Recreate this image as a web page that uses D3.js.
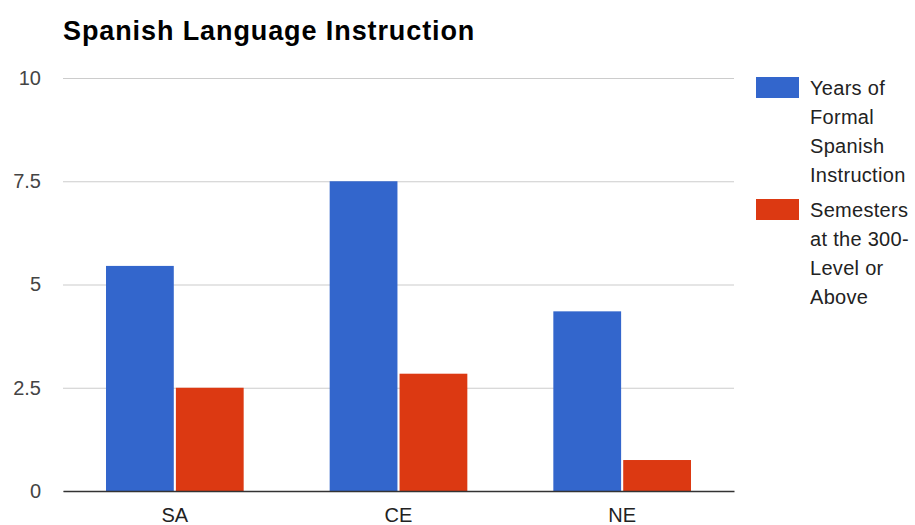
<!DOCTYPE html>
<html>
<head>
<meta charset="utf-8">
<script src="https://cdn.jsdelivr.net/npm/d3@7"></script>
<style>
  html, body { margin: 0; padding: 0; background: #fff; }
  svg { display: block; font-family: "Liberation Sans", Arial, sans-serif; }
</style>
</head>
<body>
<svg id="chart" width="915" height="525"></svg>
<script>
// Data
const categories = ["SA", "CE", "NE"];
const seriesNames = ["Years of Formal Spanish Instruction", "Semesters at the 300-Level or Above"];
const yearsFormal = [5.45, 7.5, 4.35];
const semesters300 = [2.5, 2.84, 0.75];
const yTicks = [0, 2.5, 5, 7.5, 10];
const yTickLabels = ["0", "2.5", "5", "7.5", "10"];
const legendLines = [
  ["Years of", "Formal", "Spanish", "Instruction"],
  ["Semesters", "at the 300-", "Level or", "Above"]
];
const colors = ["#3366cc", "#dc3912"];

const svg = d3.select("#chart");

const plot = { left: 63, right: 734, top: 78, bottom: 491 };

const x = d3.scaleBand()
  .domain(categories)
  .range([plot.left, plot.right])
  .paddingInner(0)
  .paddingOuter(0);

const groupPad = 43;
const xInner = d3.scaleBand()
  .domain(d3.range(seriesNames.length))
  .range([groupPad, x.bandwidth() - groupPad])
  .paddingInner(0.03);

const y = d3.scaleLinear().domain([0, 10]).range([plot.bottom, plot.top]);

// Title
svg.append("text")
  .attr("x", 63)
  .attr("y", 40)
  .attr("font-size", 27)
  .attr("font-weight", "bold")
  .attr("fill", "#000")
  .attr("letter-spacing", 0.9)
  .text("Spanish Language Instruction");

// Gridlines and y tick labels
const yAxis = d3.axisLeft(y)
  .tickValues(yTicks)
  .tickSize(-(plot.right - plot.left))
  .tickPadding(22)
  .tickFormat((d, i) => yTickLabels[i]);

const gy = svg.append("g")
  .attr("transform", `translate(${plot.left},0)`)
  .call(yAxis);
gy.select(".domain").remove();
gy.selectAll(".tick line").attr("stroke", "#cccccc").attr("stroke-width", 1.2);
gy.selectAll(".tick text")
  .attr("font-size", 20)
  .attr("fill", "#444")
  .attr("font-family", "Liberation Sans, Arial, sans-serif");

// Bars
const rows = categories.map((c, i) => ({ cat: c, values: [yearsFormal[i], semesters300[i]] }));

const groups = svg.append("g")
  .selectAll("g")
  .data(rows)
  .join("g")
  .attr("transform", d => `translate(${x(d.cat)},0)`);

groups.selectAll("rect")
  .data(d => d.values.map((v, s) => ({ v, s })))
  .join("rect")
  .attr("x", d => xInner(d.s))
  .attr("width", xInner.bandwidth())
  .attr("y", d => y(d.v))
  .attr("height", d => y(0) - y(d.v))
  .attr("fill", d => colors[d.s]);

// Baseline and category labels
const xAxis = d3.axisBottom(x).tickSize(0).tickPadding(17);
const gx = svg.append("g")
  .attr("transform", `translate(0,${plot.bottom})`)
  .call(xAxis);
gx.select(".domain").attr("stroke", "#333").attr("stroke-width", 1.5);
gx.selectAll(".tick text")
  .attr("font-size", 20)
  .attr("fill", "#222")
  .attr("font-family", "Liberation Sans, Arial, sans-serif");

// Legend
const legend = svg.append("g");
const itemTop = [77, 199];
legendLines.forEach((lines, s) => {
  const g = legend.append("g").attr("transform", `translate(756,${itemTop[s]})`);
  g.append("rect")
    .attr("width", 43)
    .attr("height", 21)
    .attr("fill", colors[s]);
  lines.forEach((t, k) => {
    g.append("text")
      .attr("x", 54)
      .attr("y", 18 + k * 29)
      .attr("font-size", 20)
      .attr("fill", "#222")
      .attr("letter-spacing", 0.3)
      .text(t);
  });
});
</script>
</body>
</html>
